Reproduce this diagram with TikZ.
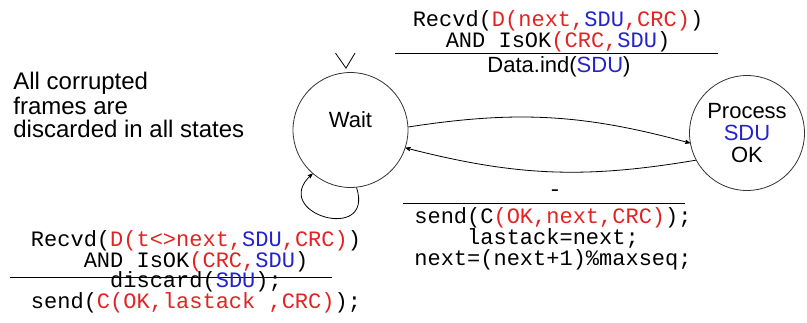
\documentclass[tikz,border=0pt]{standalone}
\usepackage{fontspec}
\setmainfont{Liberation Sans}
\newfontfamily\codefont{Liberation Mono}
\usepackage{tikz}
\usetikzlibrary{arrows,automata,positioning}

\definecolor{fieldred}{RGB}{225,35,35}
\definecolor{fieldblue}{RGB}{35,35,205}
\newcommand{\fr}[1]{\textcolor{fieldred}{#1}}
\newcommand{\fb}[1]{\textcolor{fieldblue}{#1}}

\begin{document}
\begin{tikzpicture}
	[x=1pt,y=1pt,->,>=stealth',auto,node distance=396.5pt,
		thick,every state/.style={draw=black!80,minimum size=115pt,inner sep=0pt,font=\fontsize{22}{22}\selectfont},
		code text/.style={font=\codefont\fontsize{22}{21}\selectfont,align=center,inner sep=0pt,anchor=base},
		sans text/.style={font=\fontsize{22}{22}\selectfont,inner sep=0pt,anchor=base},
		note text/.style={font=\fontsize{24}{24}\selectfont,align=left,inner sep=0pt,anchor=base west}]

	\useasboundingbox (0,0) rectangle (807,322);

	\node[state, label={[sans text,anchor=center,yshift=10pt]center:Wait}]  (Wait) at (350.5,192) {};
	\node[state, align=center, yshift=-3pt]  [right of=Wait]  (Proc)  {Process\\\fb{SDU}\\OK};

	% initial mark
	\draw[-] ([xshift=-15pt,yshift=19pt]Wait.north) -- ([xshift=-4.5pt,yshift=4pt]Wait.north) -- ([xshift=4.5pt,yshift=19pt]Wait.north);

	\path[]
	(Wait.3)   edge [bend left=12]   (Proc.190)
	(Proc.208) edge [bend left=12]   (Wait.-18)
	(Wait.-84) edge [out=-72,in=-138,looseness=3.3]   (Wait.-131)
	;

	\node[note text] (Note) at (13,184) {All corrupted\\frames are\\discarded in all states};

	\node[code text] (DataGuard) at (558,274) {Recvd(\fr{D(next,}\fb{SDU}\fr{,CRC)})\\AND IsOK\fr{(CRC,}\fb{SDU})};
	\draw[-] (395,269) -- (718,269);
	\node[sans text] (DataAct) at (559,249) {Data.ind(\fb{SDU})};

	\node[code text] (AckGuard) at (555,125) {-};
	\draw[-] (403,119) -- (685,119);
	\node[code text] (AckAct) at (553,57) {send(C\fr{(OK,next,CRC)});\\lastack=next;\\next=(next+1)\%maxseq;};

	\node[code text] (DupGuard) at (196,55) {Recvd(\fr{D(t<>next,}\fb{SDU}\fr{,CRC)})\\AND IsOK\fr{(CRC,}\fb{SDU})};
	\draw[-] (10,45) -- (332,45);
	\node[code text] (DupAct) at (196,14) {discard(\fb{SDU});\\send(\fr{C(OK,lastack ,CRC)});};

\end{tikzpicture}
\end{document}
